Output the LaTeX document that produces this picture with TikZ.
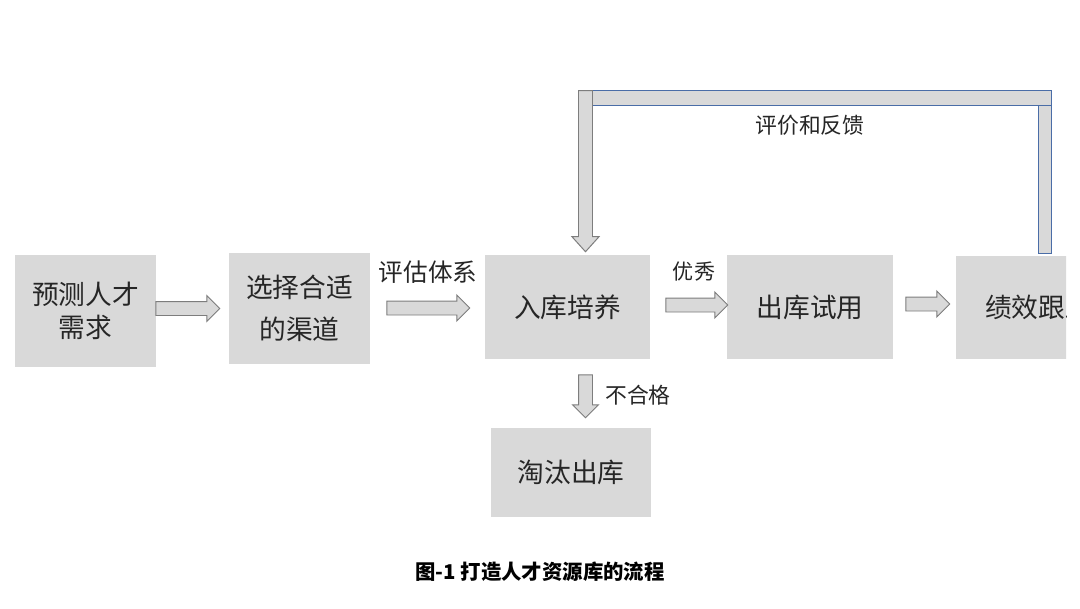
\documentclass[tikz,border=0pt]{standalone}
\usepackage{fontspec}
\setmainfont{Noto Sans CJK SC}
\usetikzlibrary{shapes.arrows,calc}
\definecolor{boite}{RGB}{217,217,217}
\definecolor{fleche}{RGB}{125,125,125}
\definecolor{bleu}{RGB}{74,109,167}
\definecolor{texte}{RGB}{38,38,38}
\newcommand{\upx}{0.025cm}
\tikzset{
  etape/.style={fill=boite, inner sep=0pt, align=center, text=texte, font=\fontsize{19}{23.5}\selectfont},
  bloc/.style={single arrow, draw=fleche, fill=boite, line width=0.7pt, inner xsep=0pt, inner ysep=0.1625cm,
    single arrow head extend=0.15cm, single arrow tip angle=90},
  legende/.style={text=texte, inner sep=0pt, font=\fontsize{15.5}{18}\selectfont},
}
\begin{document}
\begin{tikzpicture}[x=0.025cm, y=0.025cm]
      \fill[white] (0,0) rectangle (1080,-608);
      \useasboundingbox (0,0) rectangle (1080,-608);

      % Les étapes
      \node[etape, minimum width=141*\upx, minimum height=112*\upx] (besoin) at (85.5,-311) {预测人才\\需求};
      \node[etape, minimum width=141*\upx, minimum height=111*\upx, font=\fontsize{19}{30}\selectfont] (canal) at (299.5,-308.5) {选择合适\\的渠道};
      \node[etape, minimum width=165*\upx, minimum height=104*\upx] (formation) at (567.5,-307) {入库培养};
      \node[etape, minimum width=166*\upx, minimum height=104*\upx] (essai) at (810,-307) {出库试用};
      \begin{scope}
        \clip (0,0) rectangle (1066,-608);
        \node[etape, minimum width=165*\upx, minimum height=103*\upx] (suivi) at (1038.5,-307.5) {绩效跟踪};
      \end{scope}
      \node[etape, minimum width=160*\upx, minimum height=89*\upx] (sortie) at (571,-472.5) {淘汰出库};

      % Les flèches
      \node[bloc, minimum height=64*\upx] (f1) at ($(besoin.east)+(28,2.5)$) {};
      \node[bloc, minimum height=83*\upx] (f2) at ($(canal.east)+(54.5,0.5)$) {};
      \node[bloc, minimum height=62*\upx] (f3) at ($(formation.east)+(43,2)$) {};
      \node[bloc, minimum height=44*\upx] (f4) at ($(essai.east)+(31,3)$) {};
      \node[bloc, minimum height=43*\upx, rotate=-90] (f5) at ($(formation.south)+(18,-33.5)$) {};

      % Retour
      \coordinate (retourG) at ($(formation.north)+(18,3)$);
      \coordinate (retourD) at ($(suivi.north)+(6,2)$);
      \draw[fill=boite, draw=bleu, line width=0.7pt] ($(retourG)+(7,161)$) rectangle ($(retourD)+(6.5,148)$);
      \draw[fill=boite, draw=bleu, line width=0.7pt] ($(retourD)+(-6.5,0)$) rectangle ($(retourD)+(6.5,148)$);
      \draw[fill=boite, draw=fleche, line width=0.7pt] (retourG) -- ++(13.5,15) -- ++(-6.5,0) -- ++(0,146)
        -- ++(-14,0) -- ++(0,-146) -- ++(-6.5,0) -- cycle;

      % Les textes
      \node[legende, font=\fontsize{17.5}{20}\selectfont] (l1) at (428,-272) {评估体系};
      \node[legende, font=\fontsize{15}{18}\selectfont] (l2) at (694,-272) {优秀};
      \node[legende, anchor=west] (l3) at (605,-395) {不合格};
      \node[legende] (l4) at (810,-125) {评价和反馈};
      \node[inner sep=0pt, font=\bfseries\fontsize{14.5}{17}\selectfont] (titre) at (540,-572) {图-1 打造人才资源库的流程};
\end{tikzpicture}
\end{document}
